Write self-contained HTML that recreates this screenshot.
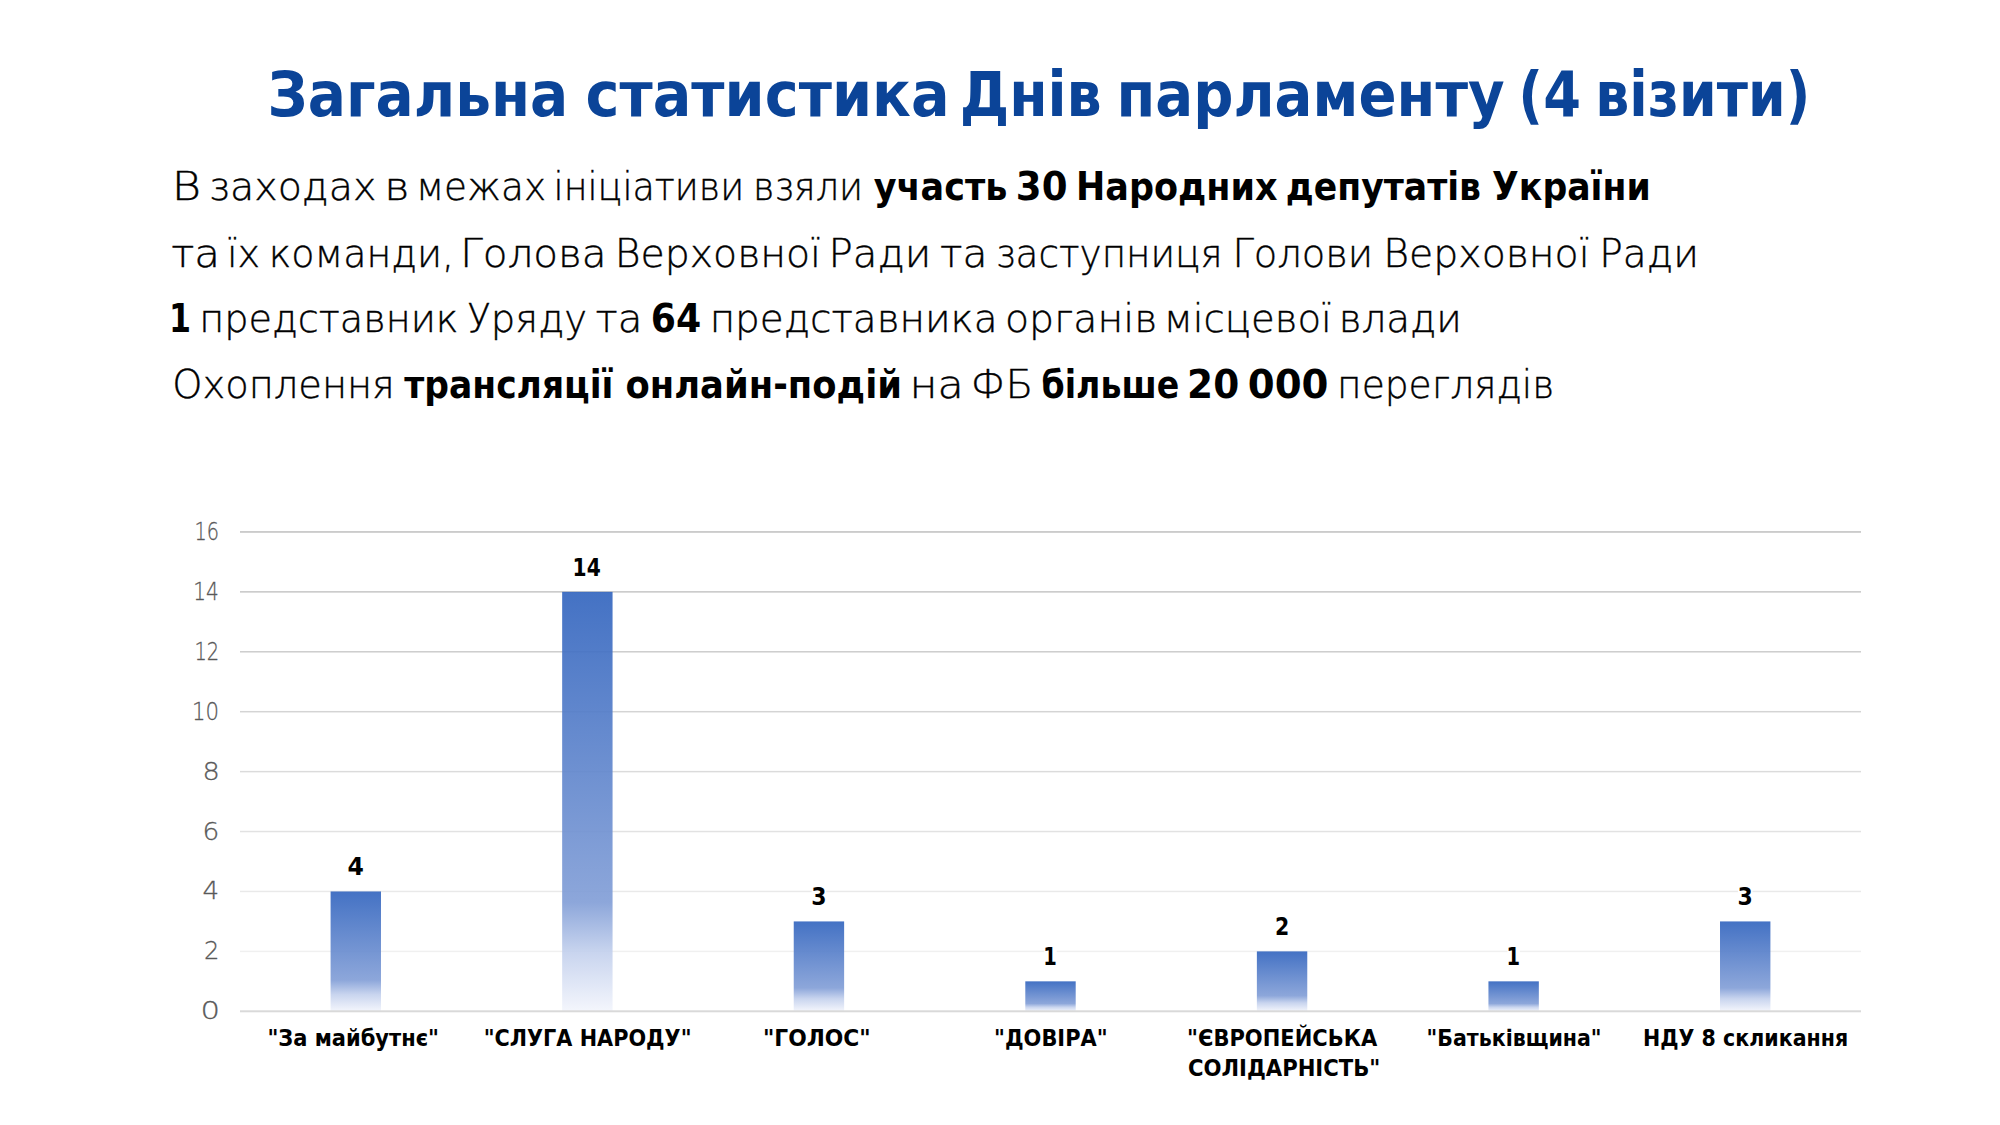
<!DOCTYPE html>
<html lang="uk"><head><meta charset="utf-8"><title>Загальна статистика Днів парламенту</title>
<style>html,body{margin:0;padding:0;background:#fff;}body{width:2000px;height:1125px;overflow:hidden;}
svg{display:block;}
.d200{font-family:"DejaVu Sans","Liberation Sans",sans-serif;font-weight:200;}
.d700{font-family:"DejaVu Sans","Liberation Sans",sans-serif;font-weight:700;}
.n400{font-family:"Liberation Sans","DejaVu Sans",sans-serif;font-weight:400;}
.n700{font-family:"Liberation Sans","DejaVu Sans",sans-serif;font-weight:700;}
.sk{stroke:#000;stroke-width:0.4px;}
.sg{stroke:#595959;stroke-width:0.3px;}
</style></head>
<body>
<svg width="2000" height="1125" viewBox="0 0 2000 1125">
<defs><linearGradient id="bg" x1="0" y1="0" x2="0" y2="1"><stop offset="0" stop-color="#3466bf"/><stop offset="0.74" stop-color="#839fd7"/><stop offset="0.86" stop-color="#c4d1ed"/><stop offset="1" stop-color="#f3f5fc"/></linearGradient></defs>
<rect x="240" y="531.19" width="1621" height="1.5" fill="rgb(191,191,191)"/>
<rect x="240" y="591.11" width="1621" height="1.5" fill="rgb(198,198,198)"/>
<rect x="240" y="651.03" width="1621" height="1.5" fill="rgb(205,205,205)"/>
<rect x="240" y="710.95" width="1621" height="1.5" fill="rgb(212,212,212)"/>
<rect x="240" y="770.87" width="1621" height="1.5" fill="rgb(219,219,219)"/>
<rect x="240" y="830.79" width="1621" height="1.5" fill="rgb(226,226,226)"/>
<rect x="240" y="890.71" width="1621" height="1.5" fill="rgb(233,233,233)"/>
<rect x="240" y="950.63" width="1621" height="1.5" fill="rgb(240,240,240)"/>
<rect x="330.59" y="891.46" width="50.4" height="119.84" fill="url(#bg)" fill-opacity="0.92"/>
<rect x="562.16" y="591.86" width="50.4" height="419.44" fill="url(#bg)" fill-opacity="0.92"/>
<rect x="793.73" y="921.42" width="50.4" height="89.88" fill="url(#bg)" fill-opacity="0.92"/>
<rect x="1025.30" y="981.34" width="50.4" height="29.96" fill="url(#bg)" fill-opacity="0.92"/>
<rect x="1256.87" y="951.38" width="50.4" height="59.92" fill="url(#bg)" fill-opacity="0.92"/>
<rect x="1488.44" y="981.34" width="50.4" height="29.96" fill="url(#bg)" fill-opacity="0.92"/>
<rect x="1720.01" y="921.42" width="50.4" height="89.88" fill="url(#bg)" fill-opacity="0.92"/>
<rect x="240" y="1010.30" width="1621" height="2" fill="#d9d9d9"/>
<rect x="811.63" y="885.62" width="14.60" height="21.5" fill="#fff"/>
<rect x="1044.30" y="945.54" width="12.40" height="21.5" fill="#fff"/>
<rect x="1507.44" y="945.54" width="12.40" height="21.5" fill="#fff"/>
<rect x="1737.91" y="885.62" width="14.60" height="21.5" fill="#fff"/>
<text class="d700" x="267.55" y="115.50" textLength="300.78" lengthAdjust="spacingAndGlyphs" font-size="62" fill="#0b4498">Загальна</text>
<text class="d700" x="585.54" y="115.50" textLength="364.04" lengthAdjust="spacingAndGlyphs" font-size="62" fill="#0b4498">статистика</text>
<text class="d700" x="959.71" y="115.50" textLength="142.07" lengthAdjust="spacingAndGlyphs" font-size="62" fill="#0b4498">Днів</text>
<text class="d700" x="1116.47" y="115.50" textLength="388.14" lengthAdjust="spacingAndGlyphs" font-size="62" fill="#0b4498">парламенту</text>
<text class="d700" x="1518.33" y="115.50" textLength="62.64" lengthAdjust="spacingAndGlyphs" font-size="62" fill="#0b4498">(4</text>
<text class="d700" x="1595.16" y="115.50" textLength="215.08" lengthAdjust="spacingAndGlyphs" font-size="62" fill="#0b4498">візити)</text>
<text class="d200 sk" x="171.65" y="200.00" textLength="29.26" lengthAdjust="spacingAndGlyphs" font-size="39">В</text>
<text class="d200 sk" x="208.62" y="200.00" textLength="167.73" lengthAdjust="spacingAndGlyphs" font-size="39">заходах</text>
<text class="d200 sk" x="384.20" y="200.00" textLength="25.34" lengthAdjust="spacingAndGlyphs" font-size="39">в</text>
<text class="d200 sk" x="415.89" y="200.00" textLength="130.18" lengthAdjust="spacingAndGlyphs" font-size="39">межах</text>
<text class="d200 sk" x="553.55" y="200.00" textLength="190.58" lengthAdjust="spacingAndGlyphs" font-size="39">ініціативи</text>
<text class="d200 sk" x="752.94" y="200.00" textLength="110.09" lengthAdjust="spacingAndGlyphs" font-size="39">взяли</text>
<text class="d700" x="873.70" y="200.00" textLength="133.71" lengthAdjust="spacingAndGlyphs" font-size="39">участь</text>
<text class="d700" x="1015.86" y="200.00" textLength="51.68" lengthAdjust="spacingAndGlyphs" font-size="39">30</text>
<text class="d700" x="1076.01" y="200.00" textLength="201.52" lengthAdjust="spacingAndGlyphs" font-size="39">Народних</text>
<text class="d700" x="1285.82" y="200.00" textLength="195.16" lengthAdjust="spacingAndGlyphs" font-size="39">депутатів</text>
<text class="d700" x="1492.11" y="200.00" textLength="158.64" lengthAdjust="spacingAndGlyphs" font-size="39">України</text>
<text class="d200 sk" x="171.16" y="266.70" textLength="48.89" lengthAdjust="spacingAndGlyphs" font-size="39">та</text>
<text class="d200 sk" x="226.97" y="266.70" textLength="33.24" lengthAdjust="spacingAndGlyphs" font-size="39">їх</text>
<text class="d200 sk" x="268.78" y="266.70" textLength="185.43" lengthAdjust="spacingAndGlyphs" font-size="39">команди,</text>
<text class="d200 sk" x="460.16" y="266.70" textLength="146.49" lengthAdjust="spacingAndGlyphs" font-size="39">Голова</text>
<text class="d200 sk" x="614.69" y="266.70" textLength="206.34" lengthAdjust="spacingAndGlyphs" font-size="39">Верховної</text>
<text class="d200 sk" x="828.58" y="266.70" textLength="102.75" lengthAdjust="spacingAndGlyphs" font-size="39">Ради</text>
<text class="d200 sk" x="940.00" y="266.70" textLength="47.52" lengthAdjust="spacingAndGlyphs" font-size="39">та</text>
<text class="d200 sk" x="995.41" y="266.70" textLength="227.23" lengthAdjust="spacingAndGlyphs" font-size="39">заступниця</text>
<text class="d200 sk" x="1232.40" y="266.70" textLength="140.79" lengthAdjust="spacingAndGlyphs" font-size="39">Голови</text>
<text class="d200 sk" x="1383.29" y="266.70" textLength="206.34" lengthAdjust="spacingAndGlyphs" font-size="39">Верховної</text>
<text class="d200 sk" x="1599.33" y="266.70" textLength="99.57" lengthAdjust="spacingAndGlyphs" font-size="39">Ради</text>
<text class="d700" x="168.98" y="332.00" textLength="22.02" lengthAdjust="spacingAndGlyphs" font-size="39">1</text>
<text class="d200 sk" x="199.15" y="332.00" textLength="259.41" lengthAdjust="spacingAndGlyphs" font-size="39">представник</text>
<text class="d200 sk" x="467.35" y="332.00" textLength="119.73" lengthAdjust="spacingAndGlyphs" font-size="39">Уряду</text>
<text class="d200 sk" x="595.62" y="332.00" textLength="46.84" lengthAdjust="spacingAndGlyphs" font-size="39">та</text>
<text class="d700" x="650.83" y="332.00" textLength="50.47" lengthAdjust="spacingAndGlyphs" font-size="39">64</text>
<text class="d200 sk" x="709.68" y="332.00" textLength="287.83" lengthAdjust="spacingAndGlyphs" font-size="39">представника</text>
<text class="d200 sk" x="1004.97" y="332.00" textLength="152.25" lengthAdjust="spacingAndGlyphs" font-size="39">органів</text>
<text class="d200 sk" x="1163.72" y="332.00" textLength="168.06" lengthAdjust="spacingAndGlyphs" font-size="39">місцевої</text>
<text class="d200 sk" x="1338.69" y="332.00" textLength="123.24" lengthAdjust="spacingAndGlyphs" font-size="39">влади</text>
<text class="d200 sk" x="172.25" y="397.70" textLength="222.53" lengthAdjust="spacingAndGlyphs" font-size="39">Охоплення</text>
<text class="d700" x="404.20" y="397.70" textLength="209.23" lengthAdjust="spacingAndGlyphs" font-size="39">трансляції</text>
<text class="d700" x="625.49" y="397.70" textLength="276.55" lengthAdjust="spacingAndGlyphs" font-size="39">онлайн-подій</text>
<text class="d200 sk" x="909.54" y="397.70" textLength="54.31" lengthAdjust="spacingAndGlyphs" font-size="39">на</text>
<text class="d200 sk" x="970.59" y="397.70" textLength="62.59" lengthAdjust="spacingAndGlyphs" font-size="39">ФБ</text>
<text class="d700" x="1041.58" y="397.70" textLength="137.57" lengthAdjust="spacingAndGlyphs" font-size="39">більше</text>
<text class="d700" x="1187.12" y="397.70" textLength="52.13" lengthAdjust="spacingAndGlyphs" font-size="39">20</text>
<text class="d700" x="1247.75" y="397.70" textLength="80.80" lengthAdjust="spacingAndGlyphs" font-size="39">000</text>
<text class="d200 sk" x="1337.08" y="397.70" textLength="217.24" lengthAdjust="spacingAndGlyphs" font-size="39">переглядів</text>
<text class="d700" x="267.41" y="1046.40" textLength="171.62" lengthAdjust="spacingAndGlyphs" font-size="23.5">&quot;За майбутнє&quot;</text>
<text class="d700" x="483.63" y="1046.40" textLength="207.88" lengthAdjust="spacingAndGlyphs" font-size="23.5">&quot;СЛУГА НАРОДУ&quot;</text>
<text class="d700" x="762.94" y="1046.40" textLength="107.78" lengthAdjust="spacingAndGlyphs" font-size="23.5">&quot;ГОЛОС&quot;</text>
<text class="d700" x="994.02" y="1046.40" textLength="113.58" lengthAdjust="spacingAndGlyphs" font-size="23.5">&quot;ДОВІРА&quot;</text>
<text class="d700" x="1187.01" y="1046.40" textLength="190.18" lengthAdjust="spacingAndGlyphs" font-size="23.5">&quot;ЄВРОПЕЙСЬКА</text>
<text class="d700" x="1187.90" y="1076.00" textLength="192.51" lengthAdjust="spacingAndGlyphs" font-size="23.5">СОЛІДАРНІСТЬ&quot;</text>
<text class="d700" x="1426.55" y="1046.40" textLength="175.03" lengthAdjust="spacingAndGlyphs" font-size="23.5">&quot;Батьківщина&quot;</text>
<text class="d700" x="1643.05" y="1046.40" textLength="205.12" lengthAdjust="spacingAndGlyphs" font-size="23.5">НДУ 8 скликання</text>
<text class="d200 sg" x="194.40" y="539.94" textLength="24.52" lengthAdjust="spacingAndGlyphs" font-size="24.5" fill="#595959">16</text>
<text class="d200 sg" x="193.22" y="599.86" textLength="25.50" lengthAdjust="spacingAndGlyphs" font-size="24.5" fill="#595959">14</text>
<text class="d200 sg" x="194.49" y="659.78" textLength="24.71" lengthAdjust="spacingAndGlyphs" font-size="24.5" fill="#595959">12</text>
<text class="d200 sg" x="192.09" y="719.70" textLength="27.00" lengthAdjust="spacingAndGlyphs" font-size="24.5" fill="#595959">10</text>
<text class="d200 sg" x="202.41" y="779.62" textLength="17.29" lengthAdjust="spacingAndGlyphs" font-size="24.5" fill="#595959">8</text>
<text class="d200 sg" x="202.49" y="839.54" textLength="16.79" lengthAdjust="spacingAndGlyphs" font-size="24.5" fill="#595959">6</text>
<text class="d200 sg" x="202.63" y="899.46" textLength="16.62" lengthAdjust="spacingAndGlyphs" font-size="24.5" fill="#595959">4</text>
<text class="d200 sg" x="204.06" y="959.38" textLength="15.37" lengthAdjust="spacingAndGlyphs" font-size="24.5" fill="#595959">2</text>
<text class="d200 sg" x="200.49" y="1019.30" textLength="19.54" lengthAdjust="spacingAndGlyphs" font-size="24.5" fill="#595959">0</text>
<text class="d700" x="347.60" y="875.16" textLength="16.40" lengthAdjust="spacingAndGlyphs" font-size="24">4</text>
<text class="d700" x="572.61" y="575.56" textLength="28.15" lengthAdjust="spacingAndGlyphs" font-size="24">14</text>
<text class="d700" x="811.30" y="905.12" textLength="15.28" lengthAdjust="spacingAndGlyphs" font-size="24">3</text>
<text class="d700" x="1043.34" y="965.04" textLength="13.54" lengthAdjust="spacingAndGlyphs" font-size="24">1</text>
<text class="d700" x="1275.10" y="935.08" textLength="14.26" lengthAdjust="spacingAndGlyphs" font-size="24">2</text>
<text class="d700" x="1506.48" y="965.04" textLength="13.54" lengthAdjust="spacingAndGlyphs" font-size="24">1</text>
<text class="d700" x="1737.59" y="905.12" textLength="15.28" lengthAdjust="spacingAndGlyphs" font-size="24">3</text>
</svg>
</body></html>
